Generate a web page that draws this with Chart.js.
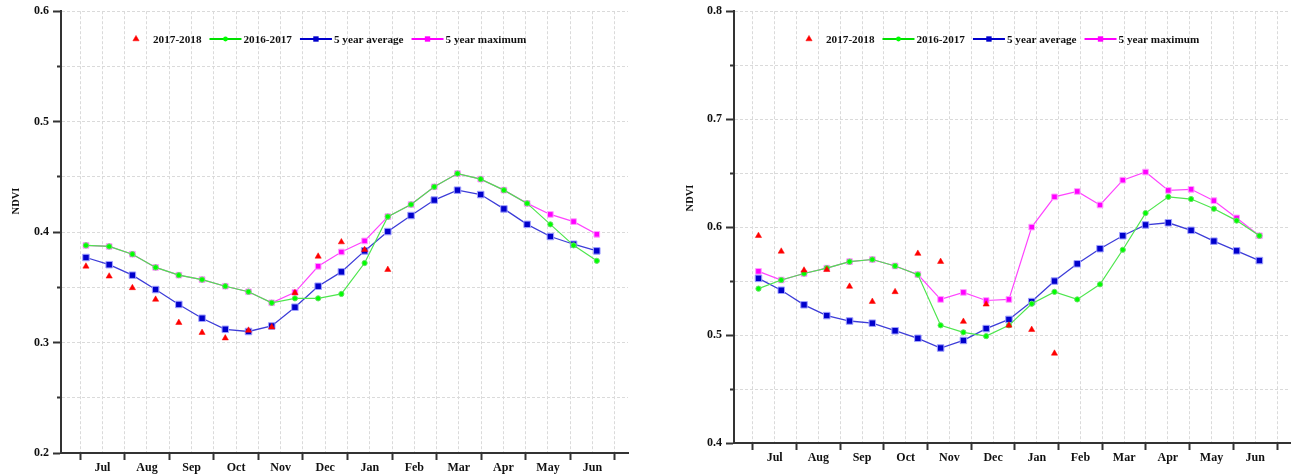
<!DOCTYPE html>
<html lang="en">
<head>
  <meta charset="UTF-8" />
  <title>NDVI seasonal profiles</title>
  <script src="https://cdn.jsdelivr.net/npm/chart.js"></script>
  <style>
    body { margin: 0; background: #fff; width: 1299px; height: 475px; overflow: hidden; position: relative; }
    canvas { position: absolute; top: 0; }
    #left { left: 0; }
    #right { left: 657px; }
  </style>
</head>
<body>
  <canvas id="left" width="645" height="475"></canvas>
  <canvas id="right" width="642" height="475"></canvas>

  <script>
    // 16-day composite dates, counted in days after 1 July
    const compositeDays = [4, 20, 36, 52, 68, 84, 100, 116, 132, 148, 164, 180,
                           196, 212, 228, 244, 260, 276, 292, 308, 324, 340, 356];
    const months = ['Jul', 'Aug', 'Sep', 'Oct', 'Nov', 'Dec', 'Jan', 'Feb', 'Mar', 'Apr', 'May', 'Jun'];
    const seriesNames = ['2017-2018', '2016-2017', '5 year average', '5 year maximum'];

    // left panel
    const leftCurrent  = [0.369, 0.360, 0.3495, 0.339, 0.318, 0.309, 0.304, 0.311, 0.314, 0.345, 0.378, 0.391, 0.384, 0.366];
    const leftPrevious = [0.388, 0.387, 0.380, 0.368, 0.361, 0.357, 0.351, 0.346, 0.336, 0.340, 0.340, 0.344,
                          0.372, 0.414, 0.425, 0.441, 0.453, 0.448, 0.438, 0.426, 0.407, 0.388, 0.374];
    const leftAverage  = [0.377, 0.3705, 0.361, 0.348, 0.3345, 0.322, 0.312, 0.310, 0.315, 0.332, 0.351, 0.364,
                          0.383, 0.4005, 0.415, 0.429, 0.438, 0.434, 0.421, 0.407, 0.396, 0.389, 0.383];
    const leftMaximum  = [0.388, 0.387, 0.380, 0.368, 0.361, 0.357, 0.351, 0.346, 0.336, 0.3455, 0.369, 0.382,
                          0.392, 0.414, 0.425, 0.441, 0.453, 0.448, 0.438, 0.426, 0.416, 0.4095, 0.398];
    const leftRange = [0.2, 0.6];

    // right panel
    const rightCurrent  = [0.592, 0.5775, 0.560, 0.5605, 0.545, 0.531, 0.540, 0.5755, 0.568, 0.5125, 0.5285, 0.509, 0.505, 0.483];
    const rightPrevious = [0.543, 0.551, 0.557, 0.562, 0.568, 0.570, 0.564, 0.556, 0.509, 0.5025, 0.499, 0.509,
                           0.529, 0.540, 0.533, 0.547, 0.579, 0.613, 0.628, 0.626, 0.617, 0.606, 0.592];
    const rightAverage  = [0.5525, 0.5415, 0.528, 0.518, 0.513, 0.511, 0.504, 0.497, 0.488, 0.495, 0.506, 0.5145,
                           0.531, 0.550, 0.566, 0.580, 0.592, 0.602, 0.604, 0.597, 0.587, 0.578, 0.569];
    const rightMaximum  = [0.559, 0.551, 0.557, 0.562, 0.568, 0.570, 0.564, 0.556, 0.533, 0.5395, 0.532, 0.533,
                           0.600, 0.628, 0.633, 0.6205, 0.6435, 0.651, 0.634, 0.635, 0.6245, 0.6085, 0.592];
    const rightRange = [0.4, 0.8];

    const MONTH = 30.7;
    const halfMonths = [];
    for (let k = 0; k <= 24; k++) halfMonths.push(k * MONTH / 2);

    const serif = '"Liberation Serif", "Times New Roman", serif';
    const gridColor = '#dadada';
    const axisColor = '#333';

    const styles = [
      { pointStyle: 'triangle', pointRadius: 3.6, pointBackgroundColor: '#ff0000', pointBorderColor: '#ff0000', pointBorderWidth: 0.5, showLine: false },
      { borderColor: '#4ee64e', borderWidth: 1.2, pointStyle: 'circle', pointRadius: 2.6, pointBackgroundColor: '#00ff00', pointBorderColor: '#66e066', pointBorderWidth: 1 },
      { borderColor: '#3d3dd8', borderWidth: 1.3, pointStyle: 'rect', pointRadius: 4.6, pointBackgroundColor: '#0000cc', pointBorderColor: '#a0a0ff', pointBorderWidth: 1 },
      { borderColor: '#ff44ff', borderWidth: 1.2, pointStyle: 'rect', pointRadius: 4.0, pointBackgroundColor: '#ff00ff', pointBorderColor: '#ffa0ff', pointBorderWidth: 1 }
    ];
    const legendLines = [null, '#00e000', '#0000cc', '#ff00ff'];

    const toPoints = vals => vals.map((v, i) => ({ x: compositeDays[i], y: v }));
    const isTenth = v => Math.abs(v * 10 - Math.round(v * 10)) < 1e-6;

    // y title + legend drawn inside the plot
    const decorations = {
      id: 'decorations',
      afterDraw(chart, args, o) {
        const ctx = chart.ctx;
        const area = chart.chartArea;

        ctx.save();
        ctx.font = 'bold 10.5px ' + serif;
        ctx.fillStyle = '#111';
        ctx.translate(o.titleX, o.titleY);
        ctx.rotate(-Math.PI / 2);
        ctx.textAlign = 'center';
        ctx.textBaseline = 'middle';
        ctx.fillText('NDVI', 0, 0);
        ctx.restore();

        ctx.save();
        ctx.font = 'bold 11.2px ' + serif;
        ctx.textBaseline = 'middle';
        ctx.textAlign = 'left';
        const y = 39;
        let x = area.left + 75;
        chart.data.datasets.forEach((ds, i) => {
          const st = styles[i];
          if (i === 0) {
            ctx.fillStyle = st.pointBackgroundColor;
            ctx.strokeStyle = st.pointBorderColor;
            ctx.lineWidth = 0.5;
            Chart.helpers.drawPoint(ctx, { pointStyle: 'triangle', radius: 3.6, rotation: 0, borderWidth: 0.5 }, x, y);
            x += 17;
          } else {
            x += 8;
            ctx.strokeStyle = legendLines[i];
            ctx.lineWidth = 2;
            ctx.beginPath();
            ctx.moveTo(x, y);
            ctx.lineTo(x + 32, y);
            ctx.stroke();
            ctx.fillStyle = st.pointBackgroundColor;
            ctx.strokeStyle = st.pointBackgroundColor;
            ctx.lineWidth = 0;
            Chart.helpers.drawPoint(ctx, { pointStyle: st.pointStyle, radius: i === 1 ? 2.4 : 3.8, rotation: 0, borderWidth: 0 }, x + 16, y);
            x += 34;
          }
          ctx.fillStyle = '#111';
          ctx.fillText(ds.label, x, y + 1);
          x += ctx.measureText(ds.label).width;
        });
        ctx.restore();
      }
    };

    function makeChart(id, series, range, o) {
      const tickFont = { family: serif, size: 12, weight: 'bold' };
      return new Chart(document.getElementById(id), {
        type: 'line',
        data: {
          datasets: series.map((vals, i) => Object.assign({
            label: seriesNames[i],
            data: toPoints(vals),
            tension: 0
          }, styles[i]))
        },
        options: {
          responsive: false,
          animation: false,
          devicePixelRatio: 1,
          layout: { padding: { left: 0, top: 10, right: o.rightPad, bottom: 0 } },
          plugins: {
            legend: { display: false },
            tooltip: { enabled: false },
            decorations: { titleX: o.titleX, titleY: o.titleY }
          },
          scales: {
            x: {
              type: 'linear',
              min: -13.2,
              max: 377.5,
              afterBuildTicks: s => { s.ticks = halfMonths.map(v => ({ value: v })); },
              afterFit: s => { s.height = o.xAxisHeight; },
              grid: {
                color: gridColor,
                lineWidth: 1,
                tickLength: 7,
                tickWidth: 2,
                tickColor: c => c.index % 2 === 0 ? axisColor : 'rgba(0,0,0,0)'
              },
              border: { color: axisColor, width: 2, dash: [3, 2] },
              ticks: {
                autoSkip: false,
                maxRotation: 0,
                padding: 1,
                color: '#111',
                font: tickFont,
                callback: (v, i) => i % 2 ? months[(i - 1) / 2] : ''
              }
            },
            y: {
              min: range[0],
              max: range[1],
              afterFit: s => { s.width = o.yAxisWidth; },
              grid: {
                color: gridColor,
                lineWidth: 1,
                tickLength: 8,
                tickWidth: 2,
                tickColor: axisColor,
                tickBorderDash: c => isTenth(c.tick.value) ? [] : [0, 4, 4, 20]
              },
              border: { color: axisColor, width: 2, dash: [3, 2] },
              ticks: {
                stepSize: 0.05,
                padding: 4,
                color: '#111',
                font: tickFont,
                callback: v => isTenth(v) ? v.toFixed(1) : ''
              }
            }
          }
        },
        plugins: [decorations]
      });
    }

    makeChart('left', [leftCurrent, leftPrevious, leftAverage, leftMaximum], leftRange,
      { yAxisWidth: 61, rightPad: 17, xAxisHeight: 22, titleX: 16, titleY: 201 });
    makeChart('right', [rightCurrent, rightPrevious, rightAverage, rightMaximum], rightRange,
      { yAxisWidth: 77, rightPad: 9, xAxisHeight: 32, titleX: 33.5, titleY: 198 });
  </script>
</body>
</html>
